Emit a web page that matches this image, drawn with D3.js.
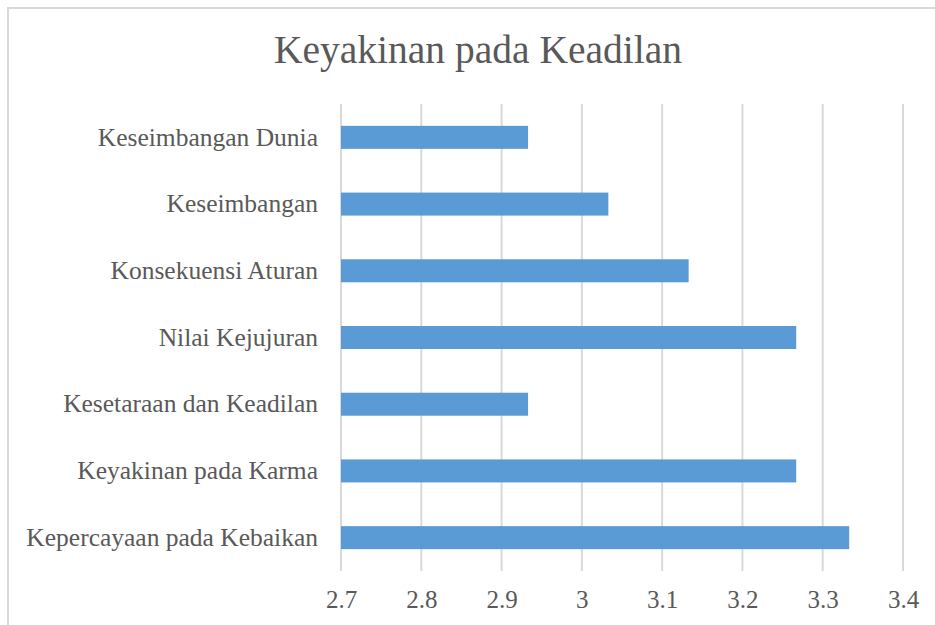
<!DOCTYPE html>
<html>
<head>
<meta charset="utf-8">
<script src="https://cdn.jsdelivr.net/npm/d3@7"></script>
<style>
  html, body { margin: 0; padding: 0; background: #fff; }
  svg { display: block; }
  svg text { font-family: "Liberation Serif", "Times New Roman", "DejaVu Serif", serif; }
</style>
</head>
<body>
<svg id="chart" width="935" height="625"></svg>
<script>
const categories = [
  "Keseimbangan Dunia",
  "Keseimbangan",
  "Konsekuensi Aturan",
  "Nilai Kejujuran",
  "Kesetaraan dan Keadilan",
  "Keyakinan pada Karma",
  "Kepercayaan pada Kebaikan"
];
const values = [2.933, 3.033, 3.133, 3.267, 2.933, 3.267, 3.333];
const tickValues = [2.7, 2.8, 2.9, 3.0, 3.1, 3.2, 3.3, 3.4];
const title = "Keyakinan pada Keadilan";

const svg = d3.select("#chart");
const textColor = "#595959";

// chart border
svg.append("rect")
  .attr("x", 8).attr("y", 8)
  .attr("width", 960).attr("height", 640)
  .attr("fill", "#fff")
  .attr("stroke", "#d9d9d9").attr("stroke-width", 2);

const x = d3.scaleLinear().domain([2.7, 3.4]).range([341, 903]);
const y = d3.scaleBand().domain(categories).range([104, 571])
  .paddingInner(0.655).paddingOuter(0.3275);

// gridlines
svg.append("g")
  .selectAll("line")
  .data(tickValues)
  .join("line")
  .attr("x1", d => x(d)).attr("x2", d => x(d))
  .attr("y1", 104).attr("y2", 571)
  .attr("stroke", "#d9d9d9").attr("stroke-width", 2);

// bars
svg.append("g")
  .selectAll("rect")
  .data(categories)
  .join("rect")
  .attr("x", x(2.7))
  .attr("y", d => y(d))
  .attr("width", (d, i) => x(values[i]) - x(2.7))
  .attr("height", y.bandwidth())
  .attr("fill", "#5b9bd5");

// x tick labels
const xAxis = d3.axisBottom(x).tickValues(tickValues).tickSize(0).tickPadding(0)
  .tickFormat(d => d3.format("")(+d.toFixed(1)));
const gx = svg.append("g").attr("transform", "translate(0,590)").call(xAxis)
  .attr("font-family", null);
gx.select(".domain").remove();
gx.selectAll("text")
  .attr("font-size", 25)
  .attr("fill", textColor).attr("dy", "0.71em").attr("y", 0);

// y category labels
const yAxis = d3.axisLeft(y).tickSize(0).tickPadding(0);
const gy = svg.append("g").attr("transform", "translate(318,0)").call(yAxis)
  .attr("font-family", null);
gy.select(".domain").remove();
gy.selectAll("text")
  .attr("font-size", 25.5)
  .attr("fill", textColor);

// title
svg.append("text")
  .attr("x", 478).attr("y", 63)
  .attr("text-anchor", "middle")
  .attr("font-size", 39.5)
  .attr("fill", textColor)
  .text(title);
</script>
</body>
</html>
